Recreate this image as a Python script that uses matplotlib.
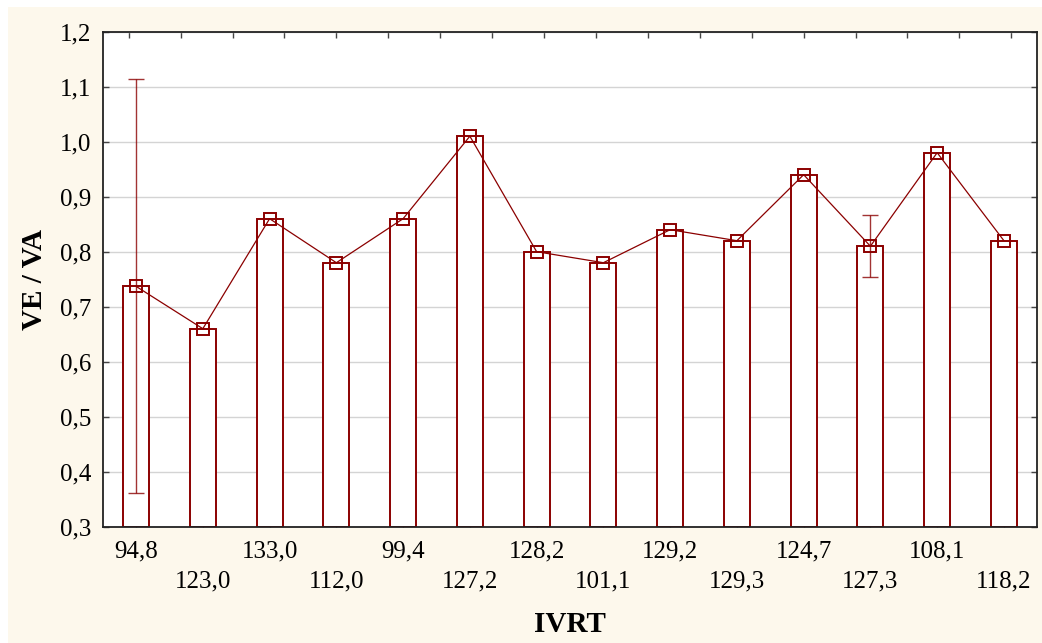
import numpy as np
import matplotlib
matplotlib.use('Agg')
from matplotlib import pyplot as plt
from matplotlib.patches import Rectangle

ivrt_labels = ['94,8', '123,0', '133,0', '112,0', '99,4', '127,2', '128,2',
               '101,1', '129,2', '129,3', '124,7', '127,3', '108,1', '118,2']
ve_va = [0.737, 0.66, 0.86, 0.78, 0.86, 1.01, 0.80,
         0.78, 0.84, 0.82, 0.94, 0.81, 0.98, 0.82]
err_idx = [0, 11]
err_lo = [0.361, 0.754]
err_hi = [1.114, 0.867]

red = '#8b0000'
cream = '#fdf8ec'

plt.rcParams['font.family'] = ['Liberation Serif', 'DejaVu Serif']

fig = plt.figure(figsize=(10.42, 6.43), dpi=100, facecolor='white')
fig.patches.append(Rectangle((8/1042, 0), 1 - 8/1042, 1 - 7/643,
                             transform=fig.transFigure, facecolor=cream,
                             edgecolor='none', zorder=-10))
ax = fig.add_axes([102.7/1042, 1 - 526.7/643, (1037.3-102.7)/1042, (526.7-31.7)/643])
ax.set_facecolor('white')

x = np.arange(len(ve_va))
ax.bar(x, np.array(ve_va) - 0.3, bottom=0.3, width=0.39, facecolor='white',
       edgecolor=red, linewidth=1.4, zorder=2)
ax.plot(x, ve_va, color=red, linewidth=0.9, marker='s', markersize=8,
        markerfacecolor='none', markeredgecolor=red, markeredgewidth=1.4, zorder=4)
for i, lo, hi in zip(err_idx, err_lo, err_hi):
    ax.errorbar([x[i]], [ve_va[i]], yerr=[[ve_va[i]-lo], [hi-ve_va[i]]],
                fmt='none', ecolor=red, elinewidth=1.0, capsize=6, capthick=1.0,
                alpha=0.8, zorder=3)

ax.set_xlim(-0.5, 13.5)
ax.set_ylim(0.3, 1.2)
yt = np.arange(0.3, 1.21, 0.1)
ax.set_yticks(yt)
ax.set_yticklabels([('%.1f' % v).replace('.', ',') for v in yt], fontsize=18)
ax.yaxis.grid(True, color='#d4d4d4', linewidth=1.0, zorder=0)
ax.set_axisbelow(True)

ax.set_xticks(x)
ax.set_xticklabels([''] * len(x))
for i, lab in enumerate(ivrt_labels):
    ypos = -0.051 if i % 2 == 0 else -0.110
    ax.text(x[i], ypos, lab, transform=ax.get_xaxis_transform(),
            ha='center', va='center', fontsize=18)

ax.tick_params(axis='both', direction='in', length=4, width=1, color='#444444',
               right=True, top=False)
ax.tick_params(axis='y', pad=8)
# extra top ticks
top_ticks = -0.5 + (np.arange(18) + 0.5) * 14 / 18
sec = ax.secondary_xaxis('top')
sec.set_xticks(top_ticks)
sec.set_xticklabels([])
sec.tick_params(direction='in', length=4, width=1, color='#444444')

for s in ax.spines.values():
    s.set_color('#222222')
    s.set_linewidth(1.3)
for s in sec.spines.values():
    s.set_visible(False)

fig.text((102.7 + 1037.3) / 2 / 1042, 1 - 625/643, 'IVRT', ha='center', va='center',
         fontsize=21, fontweight='bold')
fig.text(35/1042, 1 - 279/643, 'VE / VA', ha='center', va='center',
         fontsize=21, fontweight='bold', rotation=90)

fig.savefig('out.png', dpi=100, facecolor=fig.get_facecolor())
